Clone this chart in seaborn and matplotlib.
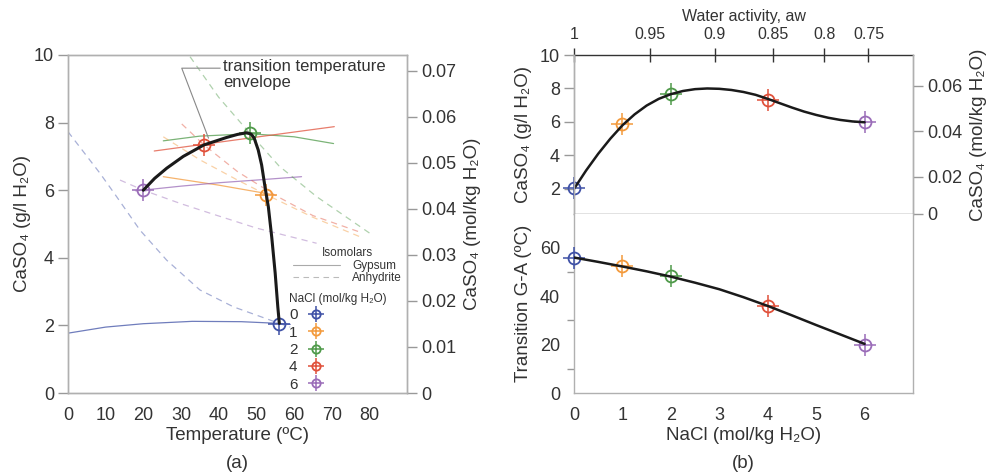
import matplotlib
matplotlib.use("Agg")
import matplotlib.pyplot as plt
import seaborn as sns
import pandas as pd
from matplotlib.lines import Line2D
from matplotlib.ticker import FuncFormatter

# ---------------- data ----------------
nacl_levels = [0, 1, 2, 4, 6]
level_colors = ["#3f51a6", "#f39a3c", "#4f9a4a", "#e0513b", "#9a6cb8"]
trans_temp = [56.0, 52.6, 48.2, 36.0, 20.0]      # transition temperature G-A (ºC)
trans_sol = [2.05, 5.86, 7.69, 7.34, 6.00]       # CaSO4 at transition (g/l)

# gypsum isomolars (solid)
gyp0_T = [0, 10, 20, 33, 46, 56, 59]
gyp0_C = [1.77, 1.95, 2.05, 2.12, 2.11, 2.06, 2.03]
gyp1_T = [25.3, 40, 52.8, 54.5]
gyp1_C = [6.40, 6.15, 5.90, 5.87]
gyp2_T = [25.3, 35, 48.3, 60, 70.5]
gyp2_C = [7.46, 7.60, 7.67, 7.58, 7.38]
gyp4_T = [22.9, 36.1, 50, 60, 70.7]
gyp4_C = [7.16, 7.36, 7.57, 7.72, 7.88]
gyp6_T = [18, 30, 40, 50, 62]
gyp6_C = [5.98, 6.12, 6.22, 6.30, 6.40]

# anhydrite isomolars (dashed)
anh0_T = [0, 8.5, 12.9, 19.1, 26.2, 35, 43.9, 56.1, 59]
anh0_C = [7.73, 6.50, 5.81, 4.82, 3.93, 3.05, 2.55, 2.06, 1.95]
anh1_T = [25.3, 35, 45, 52.8, 65, 78]
anh1_C = [7.58, 6.90, 6.30, 5.86, 5.20, 4.60]
anh2_T = [32.4, 40, 48.3, 56, 66, 80.2]
anh2_C = [9.95, 8.75, 7.68, 6.72, 5.81, 4.72]
anh4_T = [30.2, 36.1, 45, 55, 65, 77]
anh4_C = [7.96, 7.34, 6.55, 5.85, 5.25, 4.78]
anh6_T = [13.8, 20, 30, 37.7, 50, 66]
anh6_C = [6.30, 6.00, 5.60, 5.32, 4.88, 4.43]

# transition temperature envelope
env_T = [20.0, 23.0, 26.2, 30.6, 36.1, 42.1, 45.0, 47.4, 48.6, 49.4, 50.5, 51.4,
         52.3, 53.2, 54.1, 55.0, 55.7, 56.1]
env_C = [6.0, 6.35, 6.65, 7.0, 7.34, 7.56, 7.65, 7.70, 7.66, 7.55, 7.19, 6.75,
         6.1, 5.5, 4.6, 3.55, 2.55, 2.06]

# panel b fitted curves
bsol_x = [0, 0.25, 0.5, 0.75, 1.0, 1.25, 1.5, 1.75, 2.0, 2.25, 2.5, 2.75, 3.0,
          3.25, 3.5, 3.75, 4.0, 4.25, 4.5, 4.75, 5.0, 5.25, 5.5, 5.75, 6.0]
bsol_y = [2.0, 3.1, 4.1, 5.0, 5.8, 6.45, 6.98, 7.38, 7.66, 7.85, 7.96, 8.0, 7.98,
          7.91, 7.79, 7.62, 7.38, 7.12, 6.86, 6.62, 6.42, 6.25, 6.12, 6.03, 5.98]
btr_x = [0, 0.5, 1, 1.5, 2, 2.5, 3, 3.5, 4, 4.5, 5, 5.5, 6]
btr_y = [56.0, 54.2, 52.3, 50.3, 48.1, 45.6, 42.9, 39.6, 36.0, 32.1, 28.1, 24.2, 20.3]

aw_labels = ["1", "0.95", "0.9", "0.85", "0.8", "0.75"]
aw_pos = [0, 1.57, 2.91, 4.11, 5.17, 6.08]

MOLAR = 136.14

# ---------------- style ----------------
sns.set_theme(style="white")
plt.rcParams["font.family"] = ["Liberation Sans", "DejaVu Sans"]
plt.rcParams["axes.unicode_minus"] = False

SPINE = "#b0b0b0"
TXT = "#333333"
TICK = "#999999"

W, H = 993, 474
fig = plt.figure(figsize=(W / 100, H / 100), dpi=100)


def rect(x0, y0, x1, y1):
    return [x0 / W, 1 - y1 / H, (x1 - x0) / W, (y1 - y0) / H]


def style(ax, size=13):
    for s in ax.spines.values():
        s.set_color(SPINE)
        s.set_linewidth(1.0)
    ax.tick_params(direction="out", length=7, width=1, color=TICK,
                   labelcolor=TXT, labelsize=size, pad=3)


def markers(ax, xs, ys, z=5):
    for x, y, c in zip(xs, ys, level_colors):
        ax.plot([x], [y], ls="none", marker="+", ms=16, mew=1.1, color=c,
                zorder=z, clip_on=False)
        ax.plot([x], [y], ls="none", marker="o", ms=8.6, mew=1.3, mfc="none",
                mec=c, zorder=z, clip_on=False)


# ---------------- panel a ----------------
axA = fig.add_axes(rect(68, 55, 407, 393))
style(axA)
gyp = [(gyp0_T, gyp0_C), (gyp1_T, gyp1_C), (gyp2_T, gyp2_C), (gyp4_T, gyp4_C), (gyp6_T, gyp6_C)]
anh = [(anh0_T, anh0_C), (anh1_T, anh1_C), (anh2_T, anh2_C), (anh4_T, anh4_C), (anh6_T, anh6_C)]
for (t, c), col in zip(gyp, level_colors):
    sns.lineplot(x=t, y=c, ax=axA, color=col, lw=0.9, alpha=0.75,
                 sort=False, estimator=None)
for (t, c), col in zip(anh, level_colors):
    sns.lineplot(x=t, y=c, ax=axA, color=col, lw=0.9, alpha=0.45,
                 sort=False, estimator=None, linestyle=(0, (5, 4)))

markers(axA, trans_temp, trans_sol)
sns.lineplot(x=env_T, y=env_C, ax=axA, color="#1a1a1a", lw=2.2, sort=False,
             estimator=None, zorder=6)

# annotation leader + text
axA.plot([40.4, 30.2, 37.3], [9.61, 9.61, 7.54], color="#888888", lw=0.8, zorder=3)
axA.text(41.2, 9.87, "transition temperature\nenvelope", fontsize=12, color=TXT,
         va="top", ha="left", linespacing=1.05)

axA.set_xlim(0, 90)
axA.set_ylim(0, 10)
axA.set_xticks(range(0, 90, 10))
axA.set_yticks(range(0, 11, 2))
axA.set_xlabel("Temperature (ºC)", fontsize=13.5, color=TXT, labelpad=2)
axA.set_ylabel("CaSO₄ (g/l H₂O)", fontsize=13.5, color=TXT, labelpad=2)

twA = axA.twinx()
style(twA)
twA.set_ylim(0, 10 / MOLAR)
twA.set_yticks([0, 0.01, 0.02, 0.03, 0.04, 0.05, 0.06, 0.07])
twA.yaxis.set_major_formatter(FuncFormatter(lambda v, p: "0" if abs(v) < 1e-9 else f"{v:.2f}"))
twA.set_ylabel("CaSO₄ (mol/kg H₂O)", fontsize=13.5, color=TXT, labelpad=6)
twA.grid(False)

# legends
iso_handles = [Line2D([], [], color="#aaaaaa", lw=0.8),
               Line2D([], [], color="#bbbbbb", lw=0.8, ls=(0, (5, 4)))]
leg1 = axA.legend(iso_handles, ["Gypsum", "Anhydrite"], title="Isomolars",
                  loc="upper left", bbox_to_anchor=(0.664, 0.432), frameon=False,
                  fontsize=8.5, title_fontsize=8.5, handlelength=4.0,
                  handletextpad=1.0, labelspacing=0.0, borderpad=0, borderaxespad=0)
leg1._legend_box.sep = 1
for t in leg1.get_texts():
    t.set_color(TXT)
leg1.get_title().set_color(TXT)
axA.add_artist(leg1)

nacl_handles = []
for c in level_colors:
    nacl_handles.append((Line2D([], [], ls="none", marker="+", ms=11, mew=1.1, color=c),
                         Line2D([], [], ls="none", marker="o", ms=6, mew=1.3, mfc="none", mec=c)))
leg2 = axA.legend(nacl_handles, [str(v) for v in nacl_levels], title="NaCl (mol/kg H₂O)",
                  loc="upper left", bbox_to_anchor=(0.652, 0.296), frameon=False,
                  fontsize=11, title_fontsize=8.5, markerfirst=False,
                  handlelength=1.2, handletextpad=0.6, labelspacing=0.22,
                  borderpad=0, borderaxespad=0, alignment="left")
for t in leg2.get_texts():
    t.set_color(TXT)
leg2.get_title().set_color(TXT)

# ---------------- panel b (top) ----------------
axB1 = fig.add_axes(rect(574, 55, 913, 214))
style(axB1)
markers(axB1, nacl_levels, trans_sol, z=4)
sns.lineplot(x=bsol_x, y=bsol_y, ax=axB1, color="#1a1a1a", lw=1.8, sort=False,
             estimator=None, zorder=6)
axB1.set_xlim(0, 7)
axB1.set_ylim(0.5, 10)
axB1.set_yticks([2, 4, 6, 8, 10])
axB1.set_xticks([])
axB1.spines["top"].set_visible(False)
axB1.set_ylabel("CaSO₄ (g/l H₂O)", fontsize=13.5, color=TXT, labelpad=6)

sec = axB1.secondary_xaxis("top")
sec.set_xticks(aw_pos, labels=aw_labels)
sec.spines["top"].set_color("#333333")
sec.spines["top"].set_linewidth(1.0)
sec.tick_params(direction="inout", length=10, width=1, color="#333333",
                labelcolor=TXT, labelsize=11.5, pad=4)
sec.set_xlabel("Water activity, aw", fontsize=11.5, color=TXT, labelpad=5)

twB = axB1.twinx()
style(twB)
twB.set_ylim(0.5 / MOLAR, 10 / MOLAR)
twB.set_yticks([0.5 / MOLAR, 0.02, 0.04, 0.06], labels=["0", "0.02", "0.04", "0.06"])
twB.spines["top"].set_visible(False)
twB.set_ylabel("CaSO₄ (mol/kg H₂O)", fontsize=13.5, color=TXT, labelpad=6)
twB.grid(False)

# ---------------- panel b (bottom) ----------------
axB2 = fig.add_axes(rect(574, 214, 913, 393))
style(axB2)
markers(axB2, nacl_levels, trans_temp, z=4)
sns.lineplot(x=btr_x, y=btr_y, ax=axB2, color="#1a1a1a", lw=1.8, sort=False,
             estimator=None, zorder=6)
axB2.set_xlim(0, 7)
axB2.set_ylim(0, 74)
axB2.set_xticks(range(0, 7))
axB2.set_yticks([0, 20, 40, 60])
axB2.set_yticks([10, 30, 50], minor=True)
axB2.tick_params(which="minor", direction="out", length=5, width=1, color=TICK, left=True)
axB2.spines["top"].set_visible(False)
axB2.set_xlabel("NaCl (mol/kg H₂O)", fontsize=13.5, color=TXT, labelpad=2)
axB2.set_ylabel("Transition G-A (ºC)", fontsize=13.5, color=TXT, labelpad=6)

fig.text(237 / W, 1 - 463 / H, "(a)", ha="center", va="center", fontsize=13.5, color=TXT)
fig.text(743 / W, 1 - 463 / H, "(b)", ha="center", va="center", fontsize=13.5, color=TXT)

fig.savefig("out.png", dpi=100)
